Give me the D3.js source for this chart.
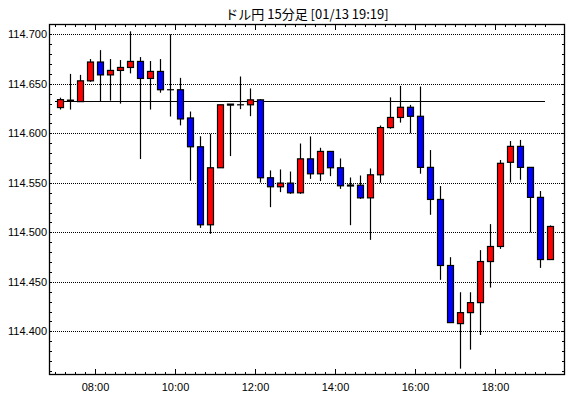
<!DOCTYPE html>
<html>
<head>
<meta charset="utf-8">
<script src="https://cdn.jsdelivr.net/npm/d3@7"></script>
<style>
  body { margin: 0; background: #fff; }
  svg { display: block; }
  .tick text { font-family: "Liberation Sans", Arial, sans-serif; font-size: 11px; fill: #000; }
</style>
</head>
<body>
<div id="chart"></div>
<script>
const TITLE = "ドル円 15分足 [01/13 19:19]";

const times = [
  "07:00", "07:15", "07:30", "07:45", "08:00", "08:15", "08:30", "08:45",
  "09:00", "09:15", "09:30", "09:45", "10:00", "10:15", "10:30", "10:45",
  "11:00", "11:15", "11:30", "11:45", "12:00", "12:15", "12:30", "12:45",
  "13:00", "13:15", "13:30", "13:45", "14:00", "14:15", "14:30", "14:45",
  "15:00", "15:15", "15:30", "15:45", "16:00", "16:15", "16:30", "16:45",
  "17:00", "17:15", "17:30", "17:45", "18:00", "18:15", "18:30", "18:45",
  "19:00", "19:15"
];
const opens = [
  114.626, 114.633, 114.632, 114.653, 114.672, 114.659, 114.6635, 114.6665,
  114.6726, 114.6554, 114.6625, 114.644, 114.644, 114.6155, 114.5864, 114.5076,
  114.5652, 114.6295, 114.6288, 114.6288, 114.6338, 114.5551, 114.546, 114.5497,
  114.5399, 114.5742, 114.5591, 114.5817, 114.5652, 114.5478, 114.5476, 114.5348,
  114.5581, 114.6058, 114.616, 114.6263, 114.6172, 114.5656, 114.5332, 114.4665,
  114.4078, 114.4189, 114.429, 114.4705, 114.4857, 114.5707, 114.5868, 114.5656,
  114.5353, 114.4725
];
const highs = [
  114.636, 114.660, 114.659, 114.675, 114.684, 114.675, 114.674, 114.703,
  114.677, 114.673, 114.675, 114.700, 114.656, 114.622, 114.597, 114.5995,
  114.6288, 114.6295, 114.6574, 114.6453, 114.6345, 114.5625, 114.5635, 114.5614,
  114.5897, 114.5968, 114.5854, 114.5817, 114.5746, 114.5554, 114.5574, 114.5645,
  114.6079, 114.6363, 114.6479, 114.6287, 114.6472, 114.5831, 114.5467, 114.4749,
  114.4395, 114.4395, 114.482, 114.5083, 114.573, 114.5922, 114.5933, 114.5656,
  114.5417, 114.507
];
const lows = [
  114.624, 114.624, 114.632, 114.652, 114.632, 114.633, 114.630, 114.6605,
  114.574, 114.624, 114.641, 114.617, 114.608, 114.552, 114.5045, 114.4985,
  114.5652, 114.577, 114.6244, 114.6173, 114.5503, 114.5254, 114.5406, 114.5389,
  114.5389, 114.554, 114.5517, 114.5567, 114.5439, 114.5072, 114.5338, 114.4924,
  114.55, 114.6046, 114.6108, 114.600, 114.5592, 114.5177, 114.452, 114.4088,
  114.3623, 114.3815, 114.3963, 114.4442, 114.4833, 114.5504, 114.5531, 114.4999,
  114.4641, 114.4725
];
const closes = [
  114.634, 114.6335, 114.653, 114.672, 114.659, 114.6635, 114.6665, 114.6726,
  114.6554, 114.6625, 114.644, 114.644, 114.6145, 114.5864, 114.5076, 114.5652,
  114.6288, 114.629, 114.6288, 114.6338, 114.5551, 114.546, 114.5497, 114.5399,
  114.5742, 114.5591, 114.5817, 114.5652, 114.547, 114.5472, 114.5348, 114.5581,
  114.6058, 114.616, 114.6263, 114.6172, 114.5656, 114.5332, 114.4665, 114.4088,
  114.4189, 114.429, 114.4705, 114.4857, 114.5697, 114.5868, 114.5656, 114.5353,
  114.4725, 114.5059
];
const baseLine = 114.633;
const yTicks = [114.400, 114.450, 114.500, 114.550, 114.600, 114.650, 114.700];
const xMajor = ["08:00", "10:00", "12:00", "14:00", "16:00", "18:00"];

const width = 570;
const height = 398;
const frame = { left: 49, top: 24, right: 565, bottom: 375 };

const parse = d3.timeParse("%H:%M");
const minutes = 15;

const candles = times.map(function (t, i) {
  return { t: parse(t), o: opens[i], h: highs[i], l: lows[i], c: closes[i] };
});

const x = d3.scaleTime()
  .domain([d3.timeMinute.offset(parse("07:00"), -9), d3.timeMinute.offset(parse("19:15"), 30)])
  .range([frame.left, frame.right]);

const y = d3.scaleLinear()
  .domain([114.3559, 114.7104])
  .range([frame.bottom, frame.top]);

const svg = d3.select("#chart").append("svg")
  .attr("width", width)
  .attr("height", height);

svg.append("rect").attr("width", width).attr("height", height).attr("fill", "#fff");

svg.append("text")
  .attr("x", 307)
  .attr("y", 18.5)
  .attr("text-anchor", "middle")
  .attr("font-family", "'Noto Sans CJK JP', sans-serif")
  .attr("font-size", "13px")
  .attr("fill", "#000")
  .text(TITLE);

// grid
svg.append("g")
  .selectAll("line")
  .data(yTicks)
  .enter()
  .append("line")
  .attr("x1", frame.left)
  .attr("x2", frame.right)
  .attr("y1", function (d) { return Math.round(y(d)) + 0.5; })
  .attr("y2", function (d) { return Math.round(y(d)) + 0.5; })
  .attr("stroke", "#000")
  .attr("stroke-dasharray", "1,1");

// minor ticks
const tickTimes = candles.map(function (d) { return d.t; });
const majorTimes = xMajor.map(parse);
const minorY = d3.range(114.36, 114.7101, 0.01);

svg.append("g")
  .attr("transform", "translate(0," + frame.bottom + ")")
  .call(d3.axisBottom(x).tickValues(tickTimes).tickSize(-3).tickFormat(""))
  .call(function (g) { g.select(".domain").remove(); });
svg.append("g")
  .attr("transform", "translate(0," + frame.top + ")")
  .call(d3.axisTop(x).tickValues(tickTimes).tickSize(-3).tickFormat(""))
  .call(function (g) { g.select(".domain").remove(); });
svg.append("g")
  .attr("transform", "translate(0," + frame.bottom + ")")
  .call(d3.axisBottom(x).tickValues(majorTimes).tickSize(-6).tickPadding(8)
    .tickFormat(d3.timeFormat("%H:%M")))
  .call(function (g) { g.select(".domain").remove(); });
svg.append("g")
  .attr("transform", "translate(0," + frame.top + ")")
  .call(d3.axisTop(x).tickValues(majorTimes).tickSize(-6).tickFormat(""))
  .call(function (g) { g.select(".domain").remove(); });

svg.append("g")
  .attr("transform", "translate(" + frame.left + ",0)")
  .call(d3.axisLeft(y).tickValues(minorY).tickSize(-3).tickFormat(""))
  .call(function (g) { g.select(".domain").remove(); });
svg.append("g")
  .attr("transform", "translate(" + frame.right + ",0)")
  .call(d3.axisRight(y).tickValues(minorY).tickSize(-3).tickFormat(""))
  .call(function (g) { g.select(".domain").remove(); });
svg.append("g")
  .attr("transform", "translate(" + frame.left + ",0)")
  .call(d3.axisLeft(y).tickValues(yTicks).tickSize(0).tickPadding(2).tickFormat(d3.format(".3f")))
  .call(function (g) { g.select(".domain").remove(); });

svg.selectAll(".tick line").attr("shape-rendering", "crispEdges");

// base line
svg.append("line")
  .attr("x1", x(parse("07:00")))
  .attr("x2", x(parse("19:15")))
  .attr("y1", Math.round(y(baseLine)) + 0.5)
  .attr("y2", Math.round(y(baseLine)) + 0.5)
  .attr("stroke", "#000")
  .attr("stroke-width", 1.2);

// candles
const half = d3.timeMinute.offset(parse("07:00"), minutes / 2) - parse("07:00");
const cx = function (d) { return Math.round(x(new Date(+d.t + half))) + 0.5; };

const g = svg.append("g");
g.selectAll("line.wick")
  .data(candles)
  .enter()
  .append("line")
  .attr("class", "wick")
  .attr("x1", cx)
  .attr("x2", cx)
  .attr("y1", function (d) { return y(d.h); })
  .attr("y2", function (d) { return y(d.l); })
  .attr("stroke", "#000")
  .attr("stroke-width", 1.2);

g.selectAll("rect.body")
  .data(candles.filter(function (d) { return d.o !== d.c; }))
  .enter()
  .append("rect")
  .attr("class", "body")
  .attr("x", function (d) { return cx(d) - 3; })
  .attr("width", 6)
  .attr("y", function (d) { return y(Math.max(d.o, d.c)); })
  .attr("height", function (d) { return Math.max(1, Math.abs(y(d.o) - y(d.c))); })
  .attr("fill", function (d) { return d.c > d.o ? "#ff0000" : "#0000ff"; })
  .attr("stroke", "#000")
  .attr("stroke-width", 1.2);

g.selectAll("line.doji")
  .data(candles.filter(function (d) { return d.o === d.c; }))
  .enter()
  .append("line")
  .attr("class", "doji")
  .attr("x1", function (d) { return cx(d) - 3.5; })
  .attr("x2", function (d) { return cx(d) + 3.5; })
  .attr("y1", function (d) { return y(d.o); })
  .attr("y2", function (d) { return y(d.o); })
  .attr("stroke", "#000")
  .attr("stroke-width", 1.2);

// frame
svg.append("rect")
  .attr("x", frame.left + 0.5)
  .attr("y", frame.top + 0.5)
  .attr("width", frame.right - frame.left - 1)
  .attr("height", frame.bottom - frame.top - 1)
  .attr("fill", "none")
  .attr("stroke", "#000")
  .attr("stroke-width", 1.3);
</script>
</body>
</html>
